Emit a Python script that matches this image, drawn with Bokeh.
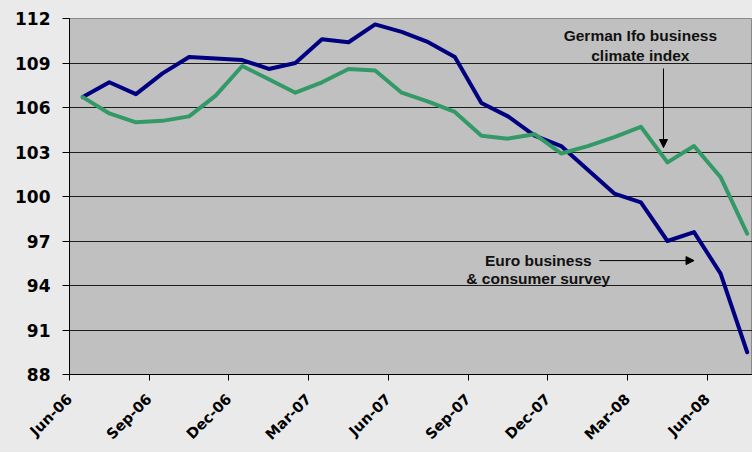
import math
from bokeh.plotting import figure
from bokeh.models import (ColumnDataSource, FixedTicker, Label, Arrow, NormalHead,
                          GlobalInlineStyleSheet)
from bokeh.embed import file_html
from bokeh.resources import INLINE

# ---- data -------------------------------------------------------------
months = ["Jun-06", "Jul-06", "Aug-06", "Sep-06", "Oct-06", "Nov-06", "Dec-06",
          "Jan-07", "Feb-07", "Mar-07", "Apr-07", "May-07", "Jun-07", "Jul-07",
          "Aug-07", "Sep-07", "Oct-07", "Nov-07", "Dec-07", "Jan-08", "Feb-08",
          "Mar-08", "Apr-08", "May-08", "Jun-08", "Jul-08"]
euro_survey = [106.7, 107.7, 106.9, 108.3, 109.4, 109.3, 109.2, 108.6, 109.0,
               110.6, 110.4, 111.6, 111.1, 110.4, 109.4, 106.3, 105.4, 104.1,
               103.4, 101.8, 100.2, 99.6, 97.0, 97.6, 94.8, 89.5]
ifo_index = [106.7, 105.6, 105.0, 105.1, 105.4, 106.8, 108.8, 107.9, 107.0,
             107.7, 108.6, 108.5, 107.0, 106.4, 105.7, 104.1, 103.9, 104.2,
             102.9, 103.4, 104.0, 104.7, 102.3, 103.4, 101.3, 97.5]
y_ticks = [88, 91, 94, 97, 100, 103, 106, 109, 112]
x_tick_labels = ["Jun-06", "Sep-06", "Dec-06", "Mar-07", "Jun-07", "Sep-07",
                 "Dec-07", "Mar-08", "Jun-08"]

# ---- figure -------------------------------------------------------------
idx = list(range(len(months)))
src = ColumnDataSource(dict(x=idx, month=months, euro=euro_survey, ifo=ifo_index))

p = figure(width=752, height=452, output_backend="svg", toolbar_location=None,
           x_range=(-0.5, 25.2), y_range=(88, 112),
           min_border_left=69, min_border_right=0, min_border_top=18,
           min_border_bottom=78)
p.background_fill_color = "#C0C0C0"
p.border_fill_color = "#EAEAEA"
p.outline_line_color = "#8A8A8A"
p.outline_line_width = 1

# x ticks fall on boundaries between monthly categories, every 3 months
tick_pos = [months.index(m) - 0.5 for m in x_tick_labels]
p.xaxis.ticker = FixedTicker(ticks=tick_pos)
p.xaxis.major_label_overrides = {t: lab for t, lab in zip(tick_pos, x_tick_labels)}
p.xaxis.major_label_orientation = math.pi / 4
p.yaxis.ticker = FixedTicker(ticks=y_ticks)

for ax in (p.xaxis, p.yaxis):
    ax.axis_line_color = "black"
    ax.axis_line_width = 1
    ax.major_tick_line_color = "black"
    ax.major_tick_in = 0
    ax.minor_tick_line_color = None
    ax.major_label_text_color = "black"
    ax.major_label_text_font = "DejaVu Sans"
    ax.major_label_text_font_style = "bold"
p.yaxis.major_tick_out = 7
p.xaxis.major_tick_out = 6
p.yaxis.major_label_text_font_size = "17px"
p.xaxis.major_label_text_font_size = "14.5px"
p.yaxis.major_label_standoff = 12
p.xaxis.major_label_standoff = 16

p.xgrid.grid_line_color = None
p.ygrid.ticker = FixedTicker(ticks=y_ticks)
p.ygrid.grid_line_color = "black"
p.ygrid.grid_line_width = 1
p.ygrid.grid_line_alpha = 0.85

p.line("x", "euro", source=src, line_color="#000080", line_width=4,
       line_join="round", line_cap="round")
p.line("x", "ifo", source=src, line_color="#339966", line_width=4,
       line_join="round", line_cap="round")

# ---- annotations ------------------------------------------------------------
ann_font = "Liberation Sans"
for txt, yy in (("German Ifo business", 110.85), ("climate index", 109.5)):
    p.add_layout(Label(x=20.98, y=yy, text=txt, text_align="center",
                       text_baseline="middle", text_font=ann_font,
                       text_font_style="bold", text_font_size="15.5px",
                       text_color="#111111"))
p.add_layout(Arrow(x_start=21.85, y_start=108.63, x_end=21.85, y_end=103.3,
                   line_color="black", line_width=1,
                   end=NormalHead(size=8, fill_color="black", line_color="black")))

for txt, yy in (("Euro business", 95.68), ("& consumer survey", 94.47)):
    p.add_layout(Label(x=17.14, y=yy, text=txt, text_align="center",
                       text_baseline="middle", text_font=ann_font,
                       text_font_style="bold", text_font_size="15.5px",
                       text_color="#111111"))
p.add_layout(Arrow(x_start=19.44, y_start=95.68, x_end=23.0, y_end=95.68,
                   line_color="black", line_width=1,
                   end=NormalHead(size=8, fill_color="black", line_color="black")))

p.stylesheets = [GlobalInlineStyleSheet(css="body { background-color: #EAEAEA; }")]

open("out.html", "w").write(file_html(p, INLINE))
